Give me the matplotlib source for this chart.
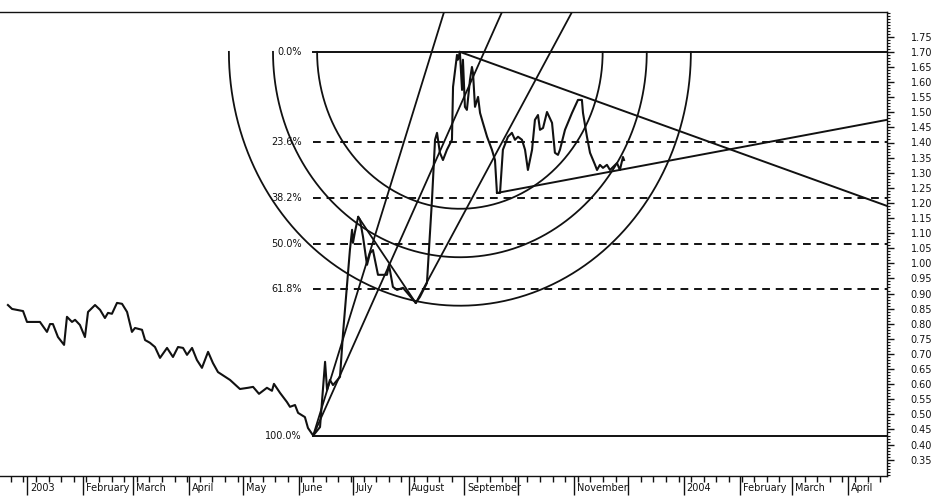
import numpy as np
import pandas as pd
import matplotlib
matplotlib.use('Agg')
import matplotlib.pyplot as plt
import matplotlib.dates as mdates
from matplotlib.ticker import FixedLocator, NullFormatter
import matplotlib.transforms as mtransforms

# ---------------- data ----------------
BASE_DATE = '2003-01-01'   # day offsets below are counted from this date

price_days = [-10.6, -8.3, -2.2, 0.0, 7.2, 11.1, 12.8, 14.4, 17.2, 20.6, 22.2, 25.0,
              26.7, 29.4, 32.2, 33.9, 37.8, 40.6, 43.3, 45.0, 47.2, 50.0, 52.8, 55.6,
              58.3, 60.0, 63.9, 65.6, 68.3, 71.1, 73.9, 77.8, 81.1, 83.9, 86.7, 88.9,
              91.7, 94.4, 97.2, 100.6, 103.3, 106.1, 112.8, 118.3, 122.8, 125.6, 128.9,
              133.3, 136.1, 137.2, 140.6, 144.4, 146.1, 148.9, 150.6, 154.4, 156.1, 159.0,
              162.8, 165.6, 166.7, 168.3, 170.0, 173.9, 175.6, 179.4, 180.6, 181.1, 182.2,
              184.0, 185.0, 186.7, 188.9, 190.6, 192.2, 195.0, 200.0, 201.1, 203.3, 205.6,
              208.9, 216.0, 218.3, 222.2, 225.0, 226.7, 227.8, 229.4, 231.1, 233.3, 236.1,
              236.7, 238.9, 239.4, 240.5, 241.7, 242.2, 243.3, 244.4, 246.1, 247.2, 247.8,
              248.9, 250.6, 251.7, 253.3, 255.6, 258.3, 260.0, 261.1, 262.8, 264.4, 267.2,
              269.4, 271.1, 272.8, 275.0, 276.7, 278.3, 280.6, 282.2, 283.9, 285.0, 286.7,
              288.9, 291.7, 293.3, 295.0, 296.1, 298.9, 302.8, 306.1, 308.3, 308.9, 311.1,
              312.8, 315.6, 316.7, 318.3, 320.0, 322.2, 323.9, 327.8, 329.4, 331.1, 331.7]
price_values = [0.862, 0.849, 0.842, 0.806, 0.806, 0.773, 0.799, 0.799, 0.756, 0.730, 0.823, 0.806,
                0.813, 0.796, 0.756, 0.839, 0.862, 0.846, 0.819, 0.836, 0.833, 0.869, 0.866, 0.839,
                0.773, 0.786, 0.780, 0.746, 0.737, 0.723, 0.687, 0.720, 0.690, 0.723, 0.720, 0.697,
                0.720, 0.680, 0.654, 0.707, 0.670, 0.640, 0.614, 0.584, 0.588, 0.591, 0.568,
                0.588, 0.578, 0.601, 0.571, 0.541, 0.525, 0.531, 0.505, 0.491, 0.455, 0.430,
                0.458, 0.674, 0.581, 0.614, 0.597, 0.624, 0.770, 1.044, 1.111, 1.068, 1.104,
                1.154, 1.144, 1.087, 0.995, 1.034, 1.044, 0.962, 0.962, 0.995, 0.922, 0.912,
                0.919, 0.869, 0.889, 0.935, 1.210, 1.409, 1.432, 1.366, 1.342, 1.376, 1.409,
                1.584, 1.690, 1.674, 1.700, 1.574, 1.674, 1.518, 1.508, 1.607, 1.650, 1.630,
                1.518, 1.551, 1.498, 1.465, 1.419, 1.376, 1.342, 1.233, 1.233, 1.376, 1.419,
                1.432, 1.409, 1.419, 1.409, 1.376, 1.309, 1.376, 1.475, 1.491, 1.442, 1.448,
                1.501, 1.465, 1.366, 1.359, 1.376, 1.442, 1.498, 1.541, 1.541, 1.498, 1.419,
                1.366, 1.326, 1.309, 1.326, 1.316, 1.326, 1.309, 1.332, 1.309, 1.352, 1.342]

# swing points
low_day, low_price = 159.0, 0.43
high_day, high_price = 240.5, 1.70

# Fibonacci retracements
fib_levels = [0.0, 0.236, 0.382, 0.5, 0.618, 1.0]
fib_labels = ['0.0%', '23.6%', '38.2%', '50.0%', '61.8%', '100.0%']

# Fibonacci arcs (fractions of high-low distance)
arc_ratios = [0.382, 0.5, 0.618]

# fan / speed lines (start point -> point on top edge)
fan_start_days = [159.0, 159.0, 216.0]
fan_start_prices = [0.43, 0.43, 0.869]
fan_end_days = [231.7, 263.9, 302.8]
fan_end_prices = [1.832, 1.832, 1.832]

# line from July high to August low
swing_line_days = [184.0, 216.0]
swing_line_prices = [1.154, 0.869]

# triangle lines
tri_upper_days = [240.5, 477.8]
tri_upper_prices = [1.70, 1.19]
tri_lower_days = [261.1, 477.8]
tri_lower_prices = [1.233, 1.475]

# axis
x_start_day, x_end_day = -15.0, 477.8
y_min, y_max = 0.296, 1.832
y_tick_values = [round(0.35 + 0.05 * i, 2) for i in range(29)]
month_labels = ['2003', 'February', 'March', 'April', 'May', 'June', 'July', 'August',
                'September', '', 'November', '', '2004', 'February', 'March', 'April']

# ---------------- drawing ----------------
plt.rcParams['font.family'] = ['DejaVu Sans']
base = mdates.date2num(pd.Timestamp(BASE_DATE))


def X(d):
    return base + np.asarray(d, dtype=float)


fig = plt.figure(figsize=(9.34, 4.97), dpi=100)
ax = fig.add_axes([0.0, 1 - 476 / 497, 887 / 934, 464 / 497])
ax.set_xlim(X(x_start_day), X(x_end_day))
ax.set_ylim(y_min, y_max)

lc = '#111111'
# price
ax.plot(X(price_days), price_values, color=lc, lw=1.5, zorder=5)

# retracement lines
rng = high_price - low_price
for lev, lab in zip(fib_levels, fib_labels):
    p = high_price - lev * rng
    ls = '-' if lev in (0.0, 1.0) else (0, (4, 3))
    ax.plot([X(low_day), X(x_end_day)], [p, p], color=lc, lw=1.4, ls=ls, zorder=3)
    ax.annotate(lab, xy=(X(low_day), p), xytext=(-8, 0), textcoords='offset points',
                ha='right', va='center', fontsize=7, color=lc)

# arcs (built in display space then mapped back through the data transform)
T = ax.transData
hx, hy = T.transform((X(high_day), high_price))
lx, ly = T.transform((X(low_day), low_price))
dist = np.hypot(hx - lx, hy - ly)
theta = np.linspace(np.pi, 2 * np.pi, 300)
for r in arc_ratios:
    R = r * dist
    pts = np.column_stack([hx + 0.91 * R * np.cos(theta), hy + R * np.sin(theta)])
    dpts = T.inverted().transform(pts)
    ax.plot(dpts[:, 0], dpts[:, 1], color=lc, lw=1.3, zorder=4)

# fan lines
for sd, sp, ed, ep in zip(fan_start_days, fan_start_prices, fan_end_days, fan_end_prices):
    ax.plot(X([sd, ed]), [sp, ep], color=lc, lw=1.3, zorder=4)

ax.plot(X(swing_line_days), swing_line_prices, color=lc, lw=1.3, zorder=4)
ax.plot(X(tri_upper_days), tri_upper_prices, color=lc, lw=1.4, zorder=4)
ax.plot(X(tri_lower_days), tri_lower_prices, color=lc, lw=1.4, zorder=4)

# spines
ax.spines['left'].set_visible(False)
for s in ('top', 'right', 'bottom'):
    ax.spines[s].set_linewidth(1.0)
    ax.spines[s].set_color(lc)

# y axis on the right
ax.yaxis.tick_right()
ax.yaxis.set_major_locator(FixedLocator(y_tick_values))
ax.yaxis.set_minor_locator(FixedLocator(np.arange(0.30, 1.835, 0.01)))
ax.set_yticklabels([f'{v:.2f}' for v in y_tick_values])
ax.tick_params(axis='y', which='major', direction='out', length=5, width=1, pad=12,
               labelsize=7, colors=lc)
ax.tick_params(axis='y', which='minor', direction='out', length=2.5, width=0.8, colors=lc)

# x axis
month_starts = pd.date_range('2003-01-01', '2004-04-01', freq='MS')
weeks = pd.date_range('2002-12-16', '2004-04-26', freq='W-MON')
ax.xaxis.set_major_locator(FixedLocator(mdates.date2num(month_starts)))
ax.xaxis.set_minor_locator(FixedLocator(mdates.date2num(weeks)))
ax.xaxis.set_minor_formatter(NullFormatter())
ax.set_xticklabels(month_labels)
ax.tick_params(axis='x', which='major', direction='out', length=14, width=1, pad=-9,
               labelsize=7, colors=lc)
ax.tick_params(axis='x', which='minor', direction='out', length=4, width=1, colors=lc)
shift = mtransforms.ScaledTranslation(2 / 72, 0, fig.dpi_scale_trans)
for t in ax.get_xticklabels():
    t.set_ha('left')
    t.set_transform(t.get_transform() + shift)

fig.savefig('out.png', dpi=100)
